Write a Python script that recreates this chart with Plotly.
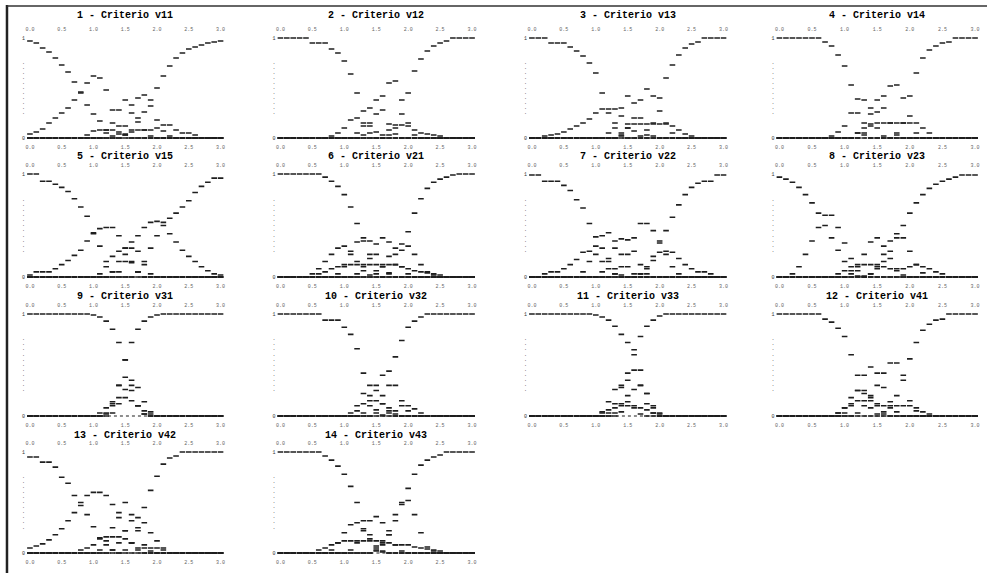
import plotly.graph_objects as go

W, H = 988, 573

# ---------------- data (membership values in %, on a 31-point grid) ----------------
GRID = list(range(31))
XTICK_VALS = [0, 5, 10, 15, 20, 25, 30]
XTICK_TEXT = ["0.0", "0.5", "1.0", "1.5", "2.0", "2.5", "3.0"]
YTICK_VALS = [0, 0.25, 0.3, 0.35, 0.4, 0.45, 0.5, 0.55, 0.6, 0.65, 0.7, 0.75, 1]
YTICK_TEXT = ["0"] + ["·"] * 11 + ["1"]

TITLES = ["1 - Criterio v11", "2 - Criterio v12", "3 - Criterio v13", "4 - Criterio v14",
          "5 - Criterio v15", "6 - Criterio v21", "7 - Criterio v22", "8 - Criterio v23",
          "9 - Criterio v31", "10 - Criterio v32", "11 - Criterio v33", "12 - Criterio v41",
          "13 - Criterio v42", "14 - Criterio v43"]

V11_DEC = [97,95,90,86,80,73,66,56,45,33,24,17,8,2] + [0]*17
V11_INC = [0]*15 + [3,8,16,26,38,50,62,72,80,85,89,91,93,95,96,97]
V11_B1 = [4,6,9,15,20,25,30,38,46,55,62,60,48,28,12,3] + [0]*15
V11_B2 = [0]*12 + [5,15,28,38,33,20,8,2] + [0]*11
V11_B3 = [0]*14 + [4,12,25,40,43,32,18,7,2] + [0]*8
V11_B4 = [0]*9 + [3,7,8,8,8,6,4,6,8,8,8,10,13,13,8,5,5,3] + [0]*4

V12_DEC = [100,100,100,100,100,95,95,95,89,85,77,64,45,27,15,6] + [0]*15
V12_INC = [0]*17 + [3,10,24,45,67,79,87,92,95,97,100,100,100,100]
V12_B1 = [0]*13 + [3,12,24,42,55,57,38,15,3] + [0]*9
V12_B2 = [0]*12 + [5,15,30,38,28,14,4] + [0]*12
V12_B3 = [0]*8 + [2,5,10,18,20,12,5] + [0]*16
V12_B4 = [0]*16 + [3,8,13,13,12,8,5,4,3,2] + [0]*5

V13_DEC = [100,100,100,95,95,95,91,87,82,75,65,45,25,10,2] + [0]*16
V13_INC = [0]*18 + [3,15,40,60,73,83,90,94,96,100,100,100,100]
V13_B1 = [0]*14 + [3,10,20,38,49,42,27,15,5] + [0]*8
V13_B2 = [0]*12 + [5,15,30,42,35,20,8,2] + [0]*11
V13_B3 = [0,0,2,3,4,6,9,12,15,19,25,29,29,29,22,14,7,2] + [0]*13
V13_B4 = [0]*14 + [5,10,14,14,14,14,14,14,12,8,4,2] + [0]*5

V14_DEC = [100,100,100,100,100,100,100,96,92,83,72,53,25,5] + [0]*17
V14_INC = [0]*18 + [3,15,42,65,80,88,92,95,96,100,100,100,100]
V14_B1 = [0]*13 + [3,12,26,42,52,53,40,22,5] + [0]*9
V14_B2 = [0]*8 + [2,6,12,25,39,38,24,10,2] + [0]*14
V14_B3 = [0]*12 + [5,15,30,38,30,15,5] + [0]*12
V14_B4 = [0]*12 + [5,10,14,15,15,15,15,15,15,15,10,5] + [0]*7

V15_DEC = [100,100,93,93,90,87,83,76,68,59,42,30,15,5] + [0]*17
V15_INC = [0]*17 + [5,15,28,40,50,57,62,68,74,82,88,92,96,96]
V15_B1 = [2,5,5,5,8,12,16,21,26,35,43,47,48,48,40,28,15,5] + [0]*13
V15_B2 = [0]*14 + [5,15,28,40,48,53,54,53,42,34,26,20,15,10,6,3,2]
V15_B3 = [0]*13 + [5,15,28,34,25,12,3] + [0]*11
V15_B4 = [0]*11 + [3,10,20,25,22,14,5] + [0]*13

V21_DEC = [100,100,100,100,100,100,100,97,93,88,80,68,52,35,18,6] + [0]*15
V21_INC = [0]*17 + [4,12,26,44,62,76,86,92,95,97,99,100,100,100]
V21_B1 = [0]*5 + [3,8,15,22,28,30,25,15,6,2] + [0]*16
V21_B2 = [0]*9 + [3,10,22,34,38,35,22,10,3] + [0]*13
V21_B3 = [0]*12 + [3,10,22,32,38,34,22,10,3] + [0]*10
V21_B4 = [0]*15 + [3,10,20,28,32,30,22,12,5,2] + [0]*6
V21_B5 = [0]*6 + [3,5,8,10,12,12,12,12,12,12,12,12,12,10,8,6,5,4,3,2] + [0]*5

V22_DEC = [99,99,93,93,93,89,84,75,67,52,39,28,18,8,2] + [0]*16
V22_INC = [0]*17 + [3,10,20,33,45,58,70,80,87,91,93,93,99,99]
V22_B1 = [0]*13 + [3,10,22,38,52,52,45,35,22,10,3] + [0]*7
V22_B2 = [0]*8 + [5,15,30,40,43,35,22,10,3] + [0]*14
V22_B3 = [0]*11 + [5,15,28,37,36,25,12,3] + [0]*12
V22_B4 = [0,0,3,5,5,8,12,17,24,25,22,15,8,3] + [0]*17
V22_B5 = [0]*17 + [3,8,16,24,25,24,18,12,8,5,5,3] + [0]*2

V23_DEC = [97,95,92,87,80,72,62,50,38,26,15,6,1] + [0]*18
V23_INC = [0]*14 + [3,8,15,25,38,50,62,72,80,86,90,93,95,97,99,99,99]
V23_B1 = [0,0,3,10,22,35,48,60,60,48,33,18,6,1] + [0]*17
V23_B2 = [0]*11 + [3,10,22,34,38,30,18,6,2] + [0]*11
V23_B3 = [0]*14 + [3,10,22,35,42,38,25,12,4] + [0]*8
V23_B4 = [0]*9 + [3,6,10,12,12,12,12,10,8,8,8,10,12,10,8,5,3] + [0]*5

V31_DEC = [100]*10 + [99,97,93,85,72,55,30,10,2] + [0]*12
V31_INC = [0]*12 + [2,10,30,55,72,85,93,97,99] + [100]*10
V31_B1 = [0]*12 + [3,12,30,38,25,10,2] + [0]*12
V31_B2 = [0]*13 + [3,12,26,35,28,14,4] + [0]*11
V31_B3 = [0]*11 + [3,8,14,18,18,15,10,5,2] + [0]*11

V32_DEC = [100,100,100,100,100,100,100,94,94,94,87,80,66,42,20,6,1] + [0]*14
V32_INC = [0]*15 + [3,12,30,58,74,87,93,97] + [100]*8
V32_B1 = [0]*13 + [3,10,25,40,44,30,15,5] + [0]*10
V32_B2 = [0]*11 + [3,10,22,30,30,20,8,2] + [0]*12
V32_B3 = [0]*12 + [5,12,15,15,12,5] + [0]*13
V32_B4 = [0]*17 + [3,5,10,10,7,3] + [0]*8

V33_DEC = [100]*10 + [99,97,94,88,80,72,65,45,22,8,2] + [0]*10
V33_INC = [0]*13 + [3,12,35,60,78,88,94,98] + [100]*10
V33_B1 = [0]*12 + [3,12,28,42,45,30,12,3] + [0]*11
V33_B2 = [0]*11 + [4,14,26,30,20,8,2] + [0]*13
V33_B3 = [0]*14 + [4,14,26,30,22,10,3] + [0]*10
V33_B4 = [0]*11 + [3,6,8,10,10,10,8,6,3] + [0]*11

V41_DEC = [100]*7 + [95,92,86,78,60,40,22,8,2] + [0]*15
V41_INC = [0]*16 + [2,8,20,40,56,72,84,90,94,95] + [100]*5
V41_B1 = [0]*12 + [3,10,20,30,42,52,52,35,15,5] + [0]*9
V41_B2 = [0]*10 + [3,10,25,40,48,42,28,14,4] + [0]*12
V41_B3 = [0]*9 + [3,8,18,25,25,18,10,4] + [0]*14
V41_B4 = [0]*9 + [3,8,12,15,15,15,12,10,10,10,10,10,8,4,2] + [0]*7

V42_DEC = [95,95,90,90,85,75,69,57,47,38,26,15,8,3] + [0]*17
V42_INC = [0]*15 + [3,10,25,45,62,76,88,94,96] + [100]*7
V42_B1 = [5,7,9,13,18,24,32,40,50,57,60,60,57,48,35,22,10,3] + [0]*13
V42_B2 = [0]*11 + [3,12,25,40,50,38,22,8,2] + [0]*11
V42_B3 = [0]*13 + [3,10,22,32,35,30,20,12,5] + [0]*9
V42_B4 = [0]*8 + [3,5,8,14,16,16,16,14,10,5,5,5,5,3] + [0]*9

V43_DEC = [100]*7 + [96,92,86,78,66,50,32,18,7,1] + [0]*14
V43_INC = [0]*15 + [2,8,18,32,48,64,78,87,92,95,97] + [100]*5
V43_B1 = [0]*15 + [3,10,22,38,50,52,38,20,6,2] + [0]*6
V43_B2 = [0]*11 + [3,10,22,32,36,30,18,8,2] + [0]*11
V43_B3 = [0]*8 + [3,10,20,28,30,24,14,5,2] + [0]*14
V43_B4 = [0]*6 + [3,5,8,10,12,12,12,12,12,12,12,10,8,8,8,6,5,4,3,2] + [0]*5

PANELS = [
    [V11_DEC, V11_INC, V11_B1, V11_B2, V11_B3, V11_B4],
    [V12_DEC, V12_INC, V12_B1, V12_B2, V12_B3, V12_B4],
    [V13_DEC, V13_INC, V13_B1, V13_B2, V13_B3, V13_B4],
    [V14_DEC, V14_INC, V14_B1, V14_B2, V14_B3, V14_B4],
    [V15_DEC, V15_INC, V15_B1, V15_B2, V15_B3, V15_B4],
    [V21_DEC, V21_INC, V21_B1, V21_B2, V21_B3, V21_B4, V21_B5],
    [V22_DEC, V22_INC, V22_B1, V22_B2, V22_B3, V22_B4, V22_B5],
    [V23_DEC, V23_INC, V23_B1, V23_B2, V23_B3, V23_B4],
    [V31_DEC, V31_INC, V31_B1, V31_B2, V31_B3],
    [V32_DEC, V32_INC, V32_B1, V32_B2, V32_B3, V32_B4],
    [V33_DEC, V33_INC, V33_B1, V33_B2, V33_B3, V33_B4],
    [V41_DEC, V41_INC, V41_B1, V41_B2, V41_B3, V41_B4],
    [V42_DEC, V42_INC, V42_B1, V42_B2, V42_B3, V42_B4],
    [V43_DEC, V43_INC, V43_B1, V43_B2, V43_B3, V43_B4],
]

# ---------------- layout geometry (pixels) ----------------
COL_PX = [(29, 220), (280, 472), (532, 724), (780, 976)]   # first / last grid point
ROW_PX = [(38, 138), (174, 277), (314, 416), (452, 553)]   # value 1 / value 0
TITLE_Y = [16, 156, 296, 435]
INK = "#1e1e1e"

fig = go.Figure()
layout = dict(width=W, height=H, margin=dict(l=0, r=0, t=0, b=0),
              paper_bgcolor="white", plot_bgcolor="white", showlegend=False)
annotations = []

for k, curves in enumerate(PANELS):
    r, c = divmod(k, 4)
    n = k + 1
    nt = k + 15
    x0, x1 = COL_PX[c]
    y1, y0 = ROW_PX[r]
    unit = (x1 - x0) / 30.0
    xl, xr = x0 - 0.6 * unit, x1 + 0.6 * unit
    h = y0 - y1
    yt, yb = y1 - 0.05 * h, y0 + 0.05 * h
    xdom = [xl / W, xr / W]
    ydom = [1 - yb / H, 1 - yt / H]
    xs = "" if n == 1 else str(n)
    common_x = dict(range=[-0.6, 30.6], showgrid=False, zeroline=False, showline=False,
                    tickvals=XTICK_VALS, ticktext=XTICK_TEXT, ticks="",
                    tickfont=dict(size=5, color="#666", family="Liberation Mono"))
    layout["xaxis" + xs] = dict(domain=xdom, anchor="y" + xs, **common_x)
    layout["xaxis" + str(nt)] = dict(domain=xdom, anchor="y" + xs, overlaying="x" + xs,
                                     side="top", **common_x)
    layout["yaxis" + xs] = dict(domain=ydom, anchor="x" + xs, range=[-0.05, 1.05],
                                showgrid=False, zeroline=False, showline=False, ticks="",
                                tickvals=YTICK_VALS, ticktext=YTICK_TEXT,
                                tickfont=dict(size=5, color="#333", family="Liberation Mono"))
    # baseline at zero
    fig.add_trace(go.Scatter(x=[GRID[0], GRID[-1]], y=[0, 0], mode="lines",
                             line=dict(color=INK, width=1.2, dash="dot"),
                             xaxis="x" + xs, yaxis="y" + xs, hoverinfo="skip"))
    # invisible trace for top axis
    fig.add_trace(go.Scatter(x=[GRID[0]], y=[0], mode="markers", marker=dict(opacity=0),
                             xaxis="x" + str(nt), yaxis="y" + xs, hoverinfo="skip"))
    for cv in curves:
        fig.add_trace(go.Scatter(
            x=GRID, y=[v / 100.0 for v in cv], mode="markers",
            marker=dict(symbol="line-ew", size=4, color=INK, line=dict(color=INK, width=1.6)),
            xaxis="x" + xs, yaxis="y" + xs))
    annotations.append(dict(x=(xdom[0] + xdom[1]) / 2, y=1 - TITLE_Y[r] / H,
                            xref="paper", yref="paper", showarrow=False,
                            xanchor="center", yanchor="middle",
                            text="<b>" + TITLES[k] + "</b>",
                            font=dict(family="Liberation Mono", size=10, color="#000")))

layout["annotations"] = annotations
layout["shapes"] = [
    dict(type="line", xref="paper", yref="paper", x0=6 / W, x1=6 / W, y0=0, y1=1 - 5 / H,
         line=dict(color="#222", width=2.5)),
    dict(type="line", xref="paper", yref="paper", x0=6 / W, x1=1, y0=1 - 6 / H, y1=1 - 6 / H,
         line=dict(color="#333", width=1.5)),
]
fig.update_layout(**layout)
fig.write_html("out.html")
